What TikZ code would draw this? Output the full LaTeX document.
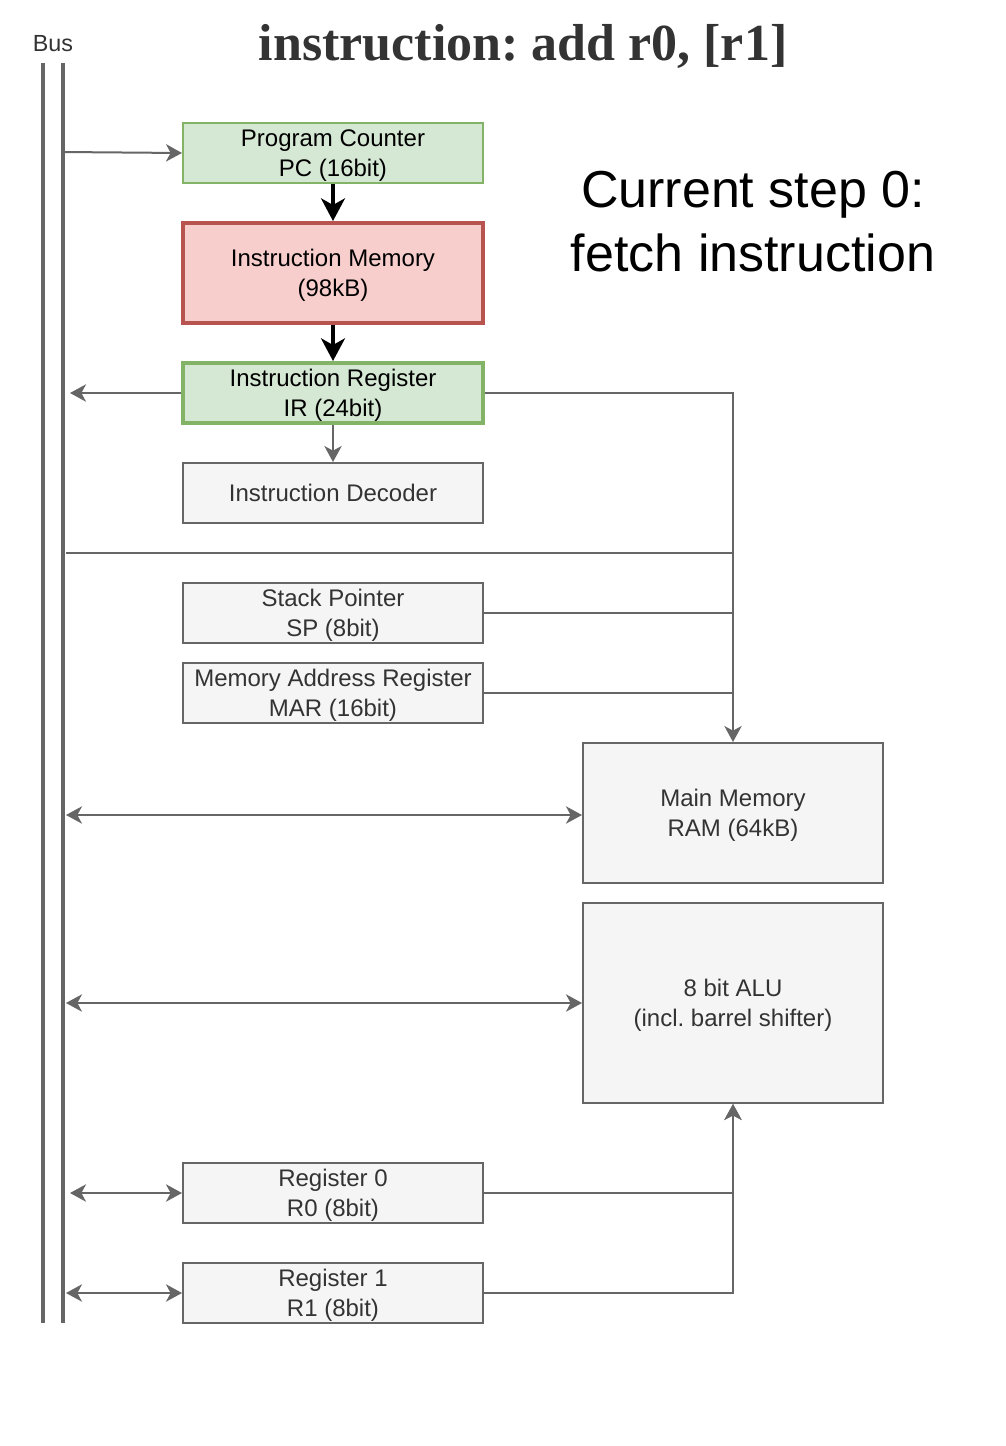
\documentclass[tikz,border=0pt]{standalone}
\usepackage{fontspec}
\setmainfont{Liberation Sans}
\newfontfamily\titlefont{Liberation Serif}
\usetikzlibrary{arrows.meta}
\definecolor{gfill}{HTML}{D5E8D4}
\definecolor{gline}{HTML}{82B366}
\definecolor{rfill}{HTML}{F8CECC}
\definecolor{rline}{HTML}{B85450}
\definecolor{nfill}{HTML}{F5F5F5}
\definecolor{nline}{HTML}{666666}
\definecolor{ntext}{HTML}{333333}
% two centred lines, second baseline 17.25pt below the box centre
\newcommand\twolines[2]{\raisebox{-17.25pt}[0pt][0pt]{\begin{tabular}[b]{@{}c@{}}#1\\#2\end{tabular}}}
\newcommand\oneline[1]{\raisebox{-6pt}[0pt][0pt]{#1}}
\tikzset{
  box/.style={draw=nline, fill=nfill, text=ntext, line width=1.5pt, minimum width=225pt, minimum height=45pt, inner sep=0pt, font=\fontsize{18}{22.5}\selectfont},
  gbox/.style={box, draw=gline, fill=gfill, text=black},
  gboxthick/.style={gbox, line width=3pt},
  rbox/.style={box, draw=rline, fill=rfill, text=black, line width=3pt},
  conn/.style={draw=nline, line width=1.5pt, -{Stealth[length=12pt,width=13pt,inset=3.5pt]}},
  bconn/.style={draw=nline, line width=1.5pt, {Stealth[length=12pt,width=13pt,inset=3.5pt]}-{Stealth[length=12pt,width=13pt,inset=3.5pt]}},
  plain/.style={draw=nline, line width=1.5pt},
  thickconn/.style={draw=black, line width=2.5pt, -{Stealth[length=17pt,width=18pt,inset=5pt]}},
  busline/.style={draw=nline, line width=3pt},
}
\begin{document}
\frenchspacing
\begin{tikzpicture}[x=0.75pt,y=-0.75pt]
\useasboundingbox (0,0) rectangle (1006,1446);
% title texts
\node[text=ntext, font=\titlefont\bfseries\fontsize{39}{45}\selectfont] (title) at (523,46) {instruction: add r0, [r1]};
\node[text=ntext, font=\fontsize{17.5}{21}\selectfont] (buslabel) at (53,44) {Bus};
\node[align=center, font=\fontsize{39}{48}\selectfont] (step) at (753,222) {Current step 0:\\fetch instruction};
% bus
\coordinate (busAtop) at (43,63);
\coordinate (busAbot) at (43,1323);
\coordinate (busBtop) at (63,63);
\coordinate (busBbot) at (63,1323);
\draw[busline] (busAtop) -- (busAbot);
\draw[busline] (busBtop) -- (busBbot);
% nodes
\node[gbox] (pc) at (333,153) {\twolines{Program Counter}{PC (16bit)}};
\node[rbox, minimum height=75pt] (im) at (333,273) {\twolines{Instruction Memory}{(98kB)}};
\node[gboxthick] (ir) at (333,393) {\twolines{Instruction Register}{IR (24bit)}};
\node[box] (id) at (333,493) {\oneline{Instruction Decoder}};
\node[box] (sp) at (333,613) {\twolines{Stack Pointer}{SP (8bit)}};
\node[box] (mar) at (333,693) {\twolines{Memory Address Register}{MAR (16bit)}};
\node[box, minimum height=105pt] (ram) at (733,813) {\twolines{Main Memory}{RAM (64kB)}};
\node[box, minimum height=150pt] (alu) at (733,1003) {\twolines{8 bit ALU}{(incl. barrel shifter)}};
\node[box] (r0) at (333,1193) {\twolines{Register 0}{R0 (8bit)}};
\node[box] (r1) at (333,1293) {\twolines{Register 1}{R1 (8bit)}};
% coordinates on the bus side
\coordinate (pcbus) at (63,152);
\coordinate (irbus) at (70,393);
\coordinate (ctrlbus) at (66,553);
\coordinate (rambus) at (66,815);
\coordinate (alubus) at (66,1003);
\coordinate (r0bus) at (70,1193);
\coordinate (r1bus) at (66,1293);
\coordinate (ctrljoin) at (733,553);
% connectors
\draw[conn] (pcbus) -- (pc.west);
\draw[thickconn] (pc.south) -- (im.north);
\draw[thickconn] (im.south) -- (ir.north);
\draw[conn] (ir.west) -- (irbus);
\draw[conn] (ir.south) -- (id.north);
\draw[conn] (ir.east) -| (ram.north);
\draw[plain] (ctrlbus) -- (ctrljoin);
\draw[plain] (sp.east) -- (sp.east -| ram.north);
\draw[plain] (mar.east) -- (mar.east -| ram.north);
\draw[bconn] (rambus) -- (rambus -| ram.west);
\draw[bconn] (alubus) -- (alu.west);
\draw[bconn] (r0bus) -- (r0.west);
\draw[bconn] (r1bus) -- (r1.west);
\draw[conn] (r0.east) -| (alu.south);
\draw[conn] (r1.east) -| (alu.south);
\end{tikzpicture}
\end{document}
